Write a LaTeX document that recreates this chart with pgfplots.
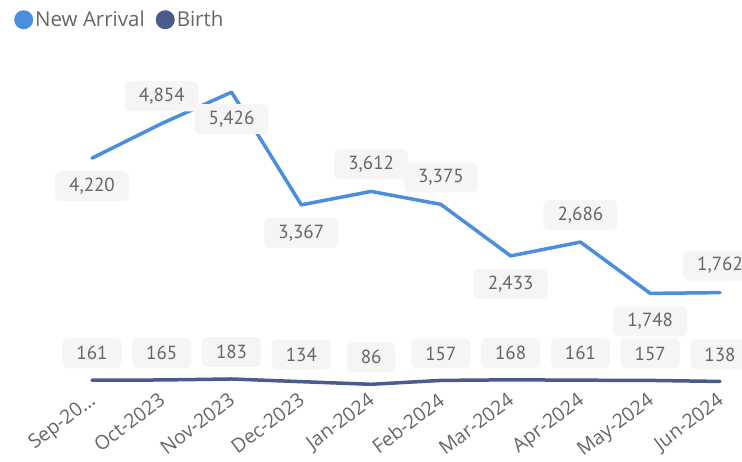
\documentclass[border=0pt]{standalone}
\usepackage{pgfplots}
\pgfplotsset{compat=1.18}
\usepackage{pgfplotstable}
\usepackage{fontspec}
\setmainfont{Open Sans}
\newfontfamily\labelfont{PT Sans}
\definecolor{arrival}{HTML}{4A8EDD}
\definecolor{birth}{HTML}{4A5B8E}
\definecolor{txt}{HTML}{666666}
\definecolor{boxfill}{HTML}{F5F5F5}

\pgfplotstableread{
x y off
0 4220 -28
1 4854 27
2 5426 -27
3 3367 -28
4 3612 27
5 3375 27
6 2433 -28
7 2686 27
8 1748 -28
9 1762 27
}\arrivaltab

\pgfplotstableread{
x y off
0 161 27
1 165 27
2 183 27
3 134 27
4 86 27
5 157 27
6 168 27
7 161 27
8 157 27
9 138 27
}\birthtab

\begin{document}
\begin{tikzpicture}
\path[use as bounding box] (0,0) rectangle (742bp,462bp);
\begin{axis}[
  at={(92bp,73bp)}, anchor=south west,
  scale only axis, width=628bp, height=328.2bp,
  xmin=0, xmax=9, ymin=0, ymax=6000,
  clip=false,
  axis line style={draw=none},
  tick style={draw=none},
  ytick=\empty,
  xtick={0,...,9},
  xticklabels={Sep-20…,Oct-2023,Nov-2023,Dec-2023,Jan-2024,Feb-2024,Mar-2024,Apr-2024,May-2024,Jun-2024},
  xticklabel style={xshift=-4bp, yshift=-2.5bp, rotate=37, anchor=north east, inner sep=0pt,
    font=\fontsize{19.5bp}{22bp}\selectfont, text=txt},
  /pgf/number format/.cd, 1000 sep={,}, assume math mode=true, /pgfplots/.cd,
  nodes near coords style={font=\labelfont\fontsize{19bp}{21bp}\selectfont, text=txt,
    fill=boxfill, rounded corners=5bp, inner xsep=14bp, inner ysep=0pt, minimum height=30bp,
    anchor=center, yshift={\off bp}},
  legend style={at={(-0.1242,1.1548)}, anchor=north west, draw=none, fill=none,
    font=\fontsize{20.5bp}{22bp}\selectfont, text=txt, inner sep=0pt,
    /tikz/every even column/.append style={column sep=9bp},
    nodes={inner xsep=2bp, inner ysep=1bp}},
  legend columns=2,
  legend cell align=left,
  legend image code/.code={\fill[#1, draw=none] (9.5bp,0bp) circle (9.5bp);},
]
% labels first (lines are drawn over them)
\addplot[draw=none, no marks, forget plot, nodes near coords, point meta=explicit,
  visualization depends on={\thisrow{off} \as \off}]
  table[x=x, y=y, meta=y] {\arrivaltab};
\addplot[draw=none, no marks, forget plot, nodes near coords, point meta=explicit,
  visualization depends on={\thisrow{off} \as \off}]
  table[x=x, y=y, meta=y] {\birthtab};
% lines
\addplot[arrival, line width=3.5bp, line join=round, line cap=round, no marks]
  table[x=x, y=y] {\arrivaltab};
\addlegendentry{New Arrival}
\addplot[birth, line width=3.5bp, line join=round, line cap=round, no marks]
  table[x=x, y=y] {\birthtab};
\addlegendentry{Birth}
\end{axis}
\end{tikzpicture}
\end{document}
